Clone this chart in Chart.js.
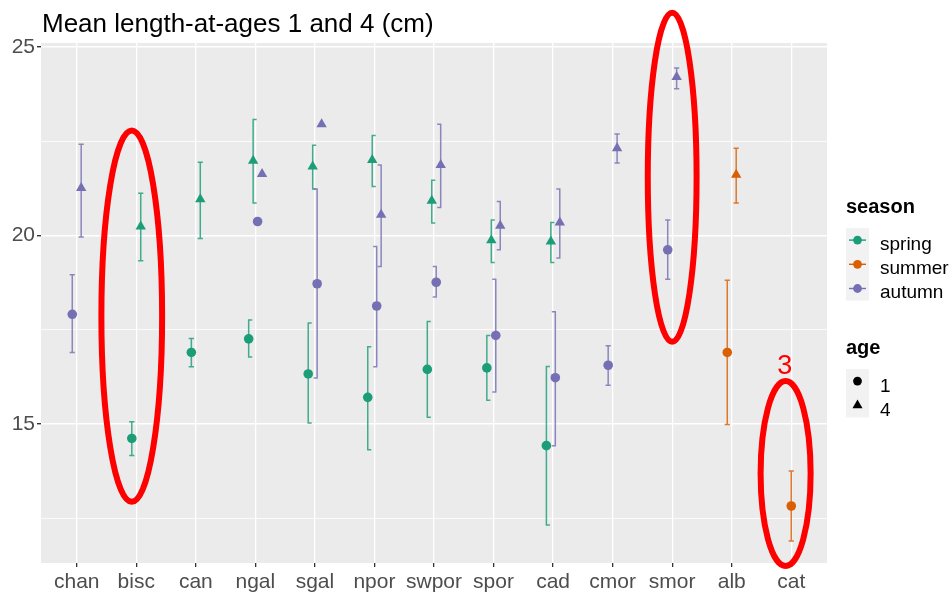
<!DOCTYPE html>
<html>
<head>
<meta charset="utf-8">
<script src="https://cdn.jsdelivr.net/npm/chart.js@4.4.1/dist/chart.umd.min.js"></script>
<style>
  html, body { margin: 0; padding: 0; background: #fff; }
  #wrap { width: 950px; height: 597px; }
</style>
</head>
<body>
<div id="wrap"><canvas id="chart" width="950" height="597"></canvas></div>
<script>
const categories = ['chan', 'bisc', 'can', 'ngal', 'sgal', 'npor', 'swpor', 'spor', 'cad', 'cmor', 'smor', 'alb', 'cat']

// mean length and interval ends, one array per season/age
const springAge1 = [null, 14.62, 16.90, 17.26, 16.33, 15.71, 16.45, 16.49, 14.43, null, null, null, null]
const springAge1Lo = [null, 14.17, 16.52, 16.78, 15.03, 14.32, 15.18, 15.63, 12.33, null, null, null, null]
const springAge1Hi = [null, 15.06, 17.27, 17.76, 17.68, 17.05, 17.72, 17.35, 16.53, null, null, null, null]

const springAge4 = [null, 20.24, 20.96, 21.98, 21.83, 22.00, 20.92, 19.87, 19.84, null, null, null, null]
const springAge4Lo = [null, 19.33, 19.92, 20.86, 21.23, 21.30, 20.33, 19.28, 19.28, null, null, null, null]
const springAge4Hi = [null, 21.12, 21.94, 23.07, 22.39, 22.65, 21.46, 20.41, 20.34, null, null, null, null]

const summerAge1 = [null, null, null, null, null, null, null, null, null, null, null, 16.90, 12.83]
const summerAge1Lo = [null, null, null, null, null, null, null, null, null, null, null, 14.99, 11.90]
const summerAge1Hi = [null, null, null, null, null, null, null, null, null, null, null, 18.81, 13.76]

const summerAge4 = [null, null, null, null, null, null, null, null, null, null, null, 21.61, null]
const summerAge4Lo = [null, null, null, null, null, null, null, null, null, null, null, 20.86, null]
const summerAge4Hi = [null, null, null, null, null, null, null, null, null, null, null, 22.31, null]

const autumnAge1 = [17.91, null, null, 20.37, 18.72, 18.13, 18.76, 17.35, 16.23, 16.56, 19.62, null, null]
const autumnAge1Lo = [16.90, null, null, null, 16.22, 16.52, 18.37, 15.85, 14.43, 16.03, 18.84, null, null]
const autumnAge1Hi = [18.96, null, null, null, 21.23, 19.71, 19.18, 18.84, 17.98, 17.08, 20.41, null, null]

const autumnAge4 = [21.26, null, null, 21.63, 22.95, 20.55, 21.87, 20.26, 20.34, 22.31, 24.20, null, null]
const autumnAge4Lo = [19.96, null, null, null, null, 19.18, 20.74, 19.62, 19.40, 21.92, 23.89, null, null]
const autumnAge4Hi = [22.42, null, null, null, null, 21.87, 22.95, 20.90, 21.23, 22.69, 24.44, null, null]

const yTicks = [12.5, 15, 17.5, 20, 22.5, 25]

const seasons = ['spring', 'summer', 'autumn']
const seasonColors = { spring: '#1B9E77', summer: '#D95F02', autumn: '#7570B3' }

// red hand drawn rings (category, shift, centre value, half sizes)
const rings = [
  { cat: 'bisc', dx: -0.076, y: 17.86, rx: 0.51, ry: 4.92 },
  { cat: 'smor', dx: 0, y: 21.54, rx: 0.41, ry: 4.36 },
  { cat: 'cat', dx: -0.095, y: 13.69, rx: 0.42, ry: 2.45 }
]
const ringLabel = { cat: 'cat', dx: -0.11, y: 16.52, text: '3' }

const series = [
  { season: 'spring', age: 1, mean: springAge1, lo: springAge1Lo, hi: springAge1Hi },
  { season: 'spring', age: 4, mean: springAge4, lo: springAge4Lo, hi: springAge4Hi },
  { season: 'summer', age: 1, mean: summerAge1, lo: summerAge1Lo, hi: summerAge1Hi },
  { season: 'summer', age: 4, mean: summerAge4, lo: summerAge4Lo, hi: summerAge4Hi },
  { season: 'autumn', age: 1, mean: autumnAge1, lo: autumnAge1Lo, hi: autumnAge1Hi },
  { season: 'autumn', age: 4, mean: autumnAge4, lo: autumnAge4Lo, hi: autumnAge4Hi }
]

const FONT = '"Liberation Sans", Arial, sans-serif'

// like position_dodge(width = 0.3), groups counted per category
function dodge(i, s) {
  let present = series.filter(t => t.mean[i] != null)
  let n = present.length, k = present.indexOf(s)
  return { off: -0.15 + (k + 0.5) * 0.3 / n, n: n, k: k }
}

function hexA(hex, a) {
  let r = parseInt(hex.slice(1, 3), 16), g = parseInt(hex.slice(3, 5), 16), b = parseInt(hex.slice(5, 7), 16)
  return 'rgba(' + r + ',' + g + ',' + b + ',' + a + ')'
}

const datasets = series.map(s => ({
  label: s.season + ' ' + s.age,
  data: categories.map((c, i) => s.mean[i] == null ? null : { x: i + dodge(i, s).off, y: s.mean[i] }).filter(p => p),
  backgroundColor: seasonColors[s.season],
  borderWidth: 0,
  pointStyle: s.age === 1 ? 'circle' : 'triangle',
  pointRadius: s.age === 1 ? 4.8 : 6,
  showLine: false
}))

const panelBg = {
  id: 'panelBg',
  beforeDraw(chart) {
    const { ctx, chartArea: a } = chart
    ctx.save()
    ctx.fillStyle = '#fff'
    ctx.fillRect(0, 0, chart.width, chart.height)
    ctx.fillStyle = '#EBEBEB'
    ctx.fillRect(a.left, a.top, a.right - a.left, a.bottom - a.top)
    ctx.restore()
  }
}

const errorBars = {
  id: 'errorBars',
  beforeDatasetsDraw(chart) {
    const ctx = chart.ctx, xs = chart.scales.x, ys = chart.scales.y
    ctx.save()
    ctx.lineWidth = 1.5
    series.forEach(s => {
      ctx.strokeStyle = hexA(seasonColors[s.season], 0.82)
      categories.forEach((c, i) => {
        if (s.lo[i] == null || s.hi[i] == null) return
        let d = dodge(i, s)
        let px = xs.getPixelForValue(i + d.off)
        let top = ys.getPixelForValue(s.hi[i]), bot = ys.getPixelForValue(s.lo[i])
        let c0 = px - 2.6, c1 = px + 2.6
        if (d.n > 2) {
          if (d.k < d.n / 2) { c0 = px - 0.7; c1 = px + 3.5 } else { c0 = px - 3.5; c1 = px + 0.7 }
        }
        ctx.beginPath()
        ctx.moveTo(px, top); ctx.lineTo(px, bot)
        ctx.moveTo(c0, top); ctx.lineTo(c1, top)
        ctx.moveTo(c0, bot); ctx.lineTo(c1, bot)
        ctx.stroke()
      })
    })
    ctx.restore()
  }
}

const decorations = {
  id: 'decorations',
  afterDraw(chart) {
    const ctx = chart.ctx, xs = chart.scales.x, ys = chart.scales.y
    ctx.save()
    // title
    ctx.fillStyle = '#000'
    ctx.font = '26px ' + FONT
    ctx.textBaseline = 'alphabetic'
    ctx.textAlign = 'left'
    ctx.fillText('Mean length-at-ages 1 and 4 (cm)', 42, 32)

    // season legend
    let lx = 846
    ctx.font = 'bold 20px ' + FONT
    ctx.fillText('season', lx, 213)
    ctx.fillStyle = '#F2F2F2'
    ctx.fillRect(lx, 228, 23, 72.6)
    ctx.font = '19px ' + FONT
    seasons.forEach((s, i) => {
      let ky = 228 + 12.1 + i * 24.2
      ctx.strokeStyle = seasonColors[s]
      ctx.lineWidth = 1.4
      ctx.beginPath(); ctx.moveTo(lx + 3, ky); ctx.lineTo(lx + 20, ky); ctx.stroke()
      ctx.fillStyle = seasonColors[s]
      ctx.beginPath(); ctx.arc(lx + 11.5, ky, 4.4, 0, Math.PI * 2); ctx.fill()
      ctx.fillStyle = '#000'
      ctx.fillText(s, 880, ky + 9.5)
    })

    // age legend
    ctx.font = 'bold 20px ' + FONT
    ctx.fillText('age', lx, 354)
    ctx.fillStyle = '#F2F2F2'
    ctx.fillRect(lx, 369, 23, 48.4)
    ctx.font = '19px ' + FONT
    ;[1, 4].forEach((a, i) => {
      let ky = 369 + 12.1 + i * 24.2
      ctx.fillStyle = '#000'
      ctx.strokeStyle = '#000'
      Chart.helpers.drawPoint(ctx, { pointStyle: a === 1 ? 'circle' : 'triangle', radius: a === 1 ? 4.4 : 5.8, borderWidth: 0 }, lx + 11.5, ky)
      ctx.fillStyle = '#000'
      ctx.fillText(String(a), 880, ky + 11)
    })

    // red rings
    ctx.strokeStyle = '#FF0000'
    ctx.lineWidth = 6
    rings.forEach(r => {
      let i = categories.indexOf(r.cat)
      let cx = xs.getPixelForValue(i + r.dx), cy = ys.getPixelForValue(r.y)
      let rx = Math.abs(xs.getPixelForValue(i + r.dx + r.rx) - cx)
      let ry = Math.abs(ys.getPixelForValue(r.y + r.ry) - cy)
      ctx.beginPath()
      ctx.ellipse(cx, cy, rx, ry, 0, 0, Math.PI * 2)
      ctx.stroke()
    })
    ctx.fillStyle = '#FF0000'
    ctx.font = '27px ' + FONT
    ctx.textAlign = 'center'
    ctx.textBaseline = 'middle'
    ctx.fillText(ringLabel.text, xs.getPixelForValue(categories.indexOf(ringLabel.cat) + ringLabel.dx), ys.getPixelForValue(ringLabel.y))
    ctx.restore()
  }
}

new Chart(document.getElementById('chart'), {
  type: 'scatter',
  data: { datasets: datasets },
  options: {
    responsive: false,
    animation: false,
    devicePixelRatio: 1,
    layout: { padding: { top: 43, right: 123, left: 0, bottom: 0 } },
    plugins: { legend: { display: false }, tooltip: { enabled: false } },
    scales: {
      x: {
        type: 'linear',
        min: -0.6,
        max: 12.6,
        afterBuildTicks: s => { s.ticks = categories.map((c, i) => ({ value: i })) },
        afterFit: s => { s.height = 34 },
        ticks: {
          callback: v => categories[v],
          font: { family: FONT, size: 21 },
          color: '#4D4D4D',
          padding: 3,
          maxRotation: 0,
          autoSkip: false
        },
        grid: { color: '#FFFFFF', lineWidth: 1.3, tickColor: '#333333', tickLength: 4 },
        border: { display: false }
      },
      y: {
        min: 11.32,
        max: 25.1,
        afterBuildTicks: s => { s.ticks = yTicks.map(v => ({ value: v })) },
        afterFit: s => { s.width = 41 },
        ticks: {
          callback: v => (v % 5 === 0 ? v : ''),
          font: { family: FONT, size: 21 },
          color: '#4D4D4D',
          padding: 2
        },
        grid: {
          color: '#FFFFFF',
          lineWidth: c => (c.tick && c.tick.value % 5 === 0 ? 1.4 : 0.8),
          tickColor: c => (c.tick && c.tick.value % 5 === 0 ? '#333333' : 'rgba(0,0,0,0)'),
          tickLength: 4
        },
        border: { display: false }
      }
    }
  },
  plugins: [panelBg, errorBars, decorations]
})
</script>
</body>
</html>
